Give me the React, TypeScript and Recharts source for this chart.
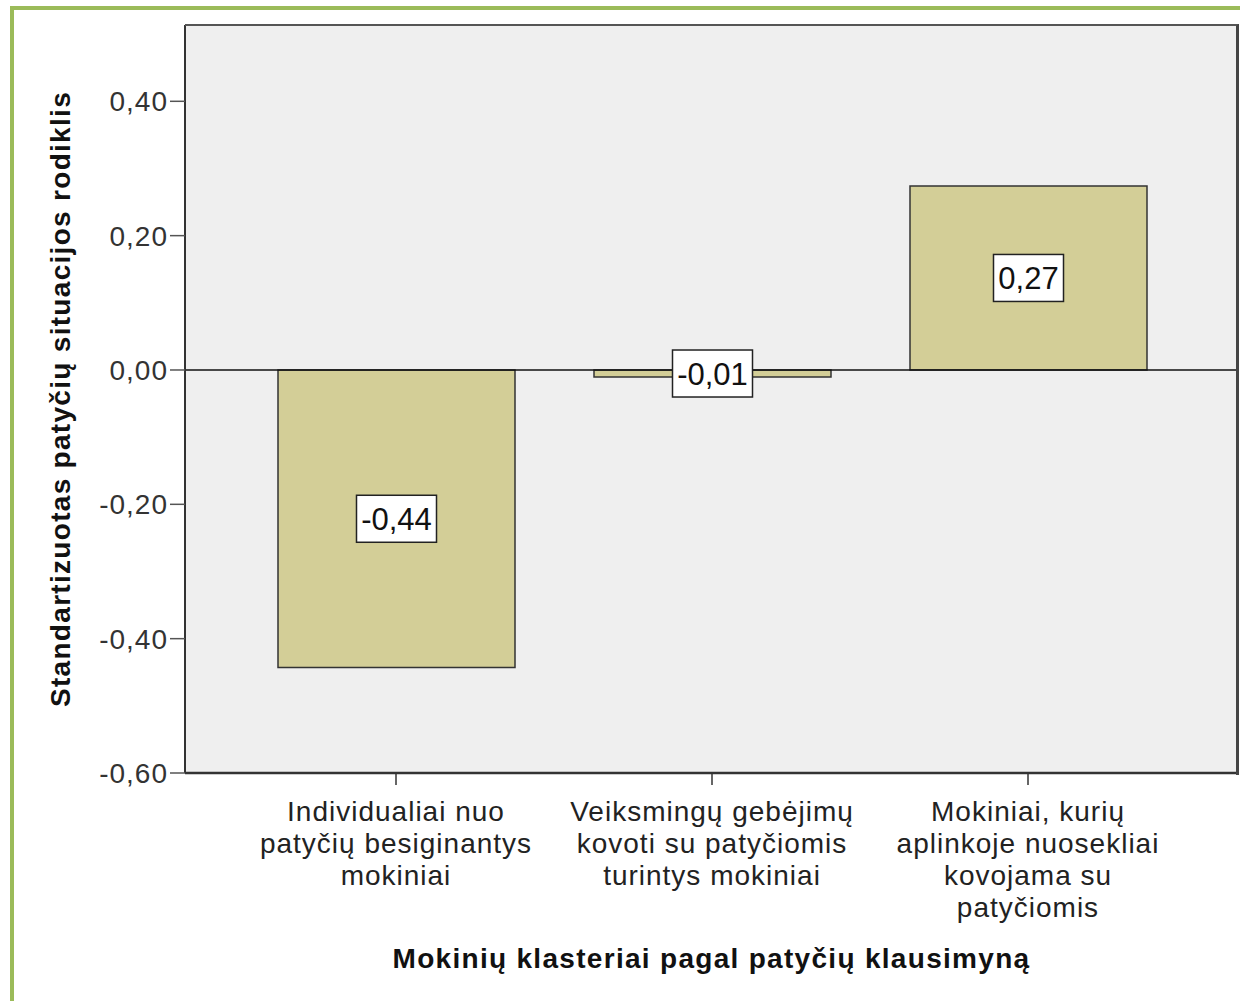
import { BarChart, Bar, XAxis, YAxis, ReferenceLine, CartesianGrid, LabelList, Label } from "recharts";

const CATEGORIES = ["Individualiai", "Veiksmingų", "Mokiniai"];
const CATEGORY_LINES = [
  ["Individualiai nuo", "patyčių besiginantys", "mokiniai"],
  ["Veiksmingų gebėjimų", "kovoti su patyčiomis", "turintys mokiniai"],
  ["Mokiniai, kurių", "aplinkoje nuosekliai", "kovojama su", "patyčiomis"],
];
const VALUES = [-0.443, -0.0105, 0.274];
const Y_TICKS = [-0.6, -0.4, -0.2, 0, 0.2, 0.4];
const Y_MAX = 0.5136;

const FONT = "'Liberation Sans', Arial, sans-serif";

const fmt = (v: number) => v.toFixed(2).replace(".", ",");

const rows = CATEGORIES.map((name, i) => ({ name, value: VALUES[i] }));

function CategoryTick({ x, y, index }: any) {
  const lines = CATEGORY_LINES[index] ?? [];
  return (
    <text x={x} y={y} textAnchor="middle" fontFamily={FONT} fontSize={28} letterSpacing={1} fill="#222">
      {lines.map((l, i) => (
        <tspan key={i} x={x} dy={i === 0 ? 34 : 32}>
          {l}
        </tspan>
      ))}
    </text>
  );
}

function charW(c: string) {
  if (c === "-") return 10;
  if (c === ",") return 9;
  return 17;
}

function ValueBox({ x, y, width, height, value }: any) {
  const cx = x + width / 2;
  const cy = y + height / 2;
  const txt = fmt(value);
  const w = txt.split("").reduce((s, c) => s + charW(c), 0) + 10;
  return (
    <g>
      <rect x={cx - w / 2} y={cy - 23.5} width={w} height={47} fill="#fff" stroke="#222" strokeWidth={1.5} />
      <text x={cx} y={cy + 11} textAnchor="middle" fontFamily={FONT} fontSize={31} fill="#111">
        {txt}
      </text>
    </g>
  );
}

export default function App() {
  return (
    <div style={{ position: "absolute", left: 0, top: 0, width: 1240, height: 1001, background: "#fff" }}>
      <div
        style={{
          position: "absolute",
          left: 10,
          top: 6,
          width: 1230,
          height: 995,
          borderLeft: "4px solid #9bbb59",
          borderTop: "4px solid #9bbb59",
        }}
      />
      <div style={{ position: "absolute", left: 0, top: 0 }}>
        <BarChart width={1240} height={1001} data={rows} margin={{ top: 25, right: 2, bottom: 0, left: 0 }}>
          <CartesianGrid horizontal={false} vertical={false} fill="#efefef" />
          <XAxis
            dataKey="name"
            height={228}
            padding={{ left: 53, right: 52 }}
            tick={<CategoryTick />}
            tickSize={12}
            tickLine={{ stroke: "#333", strokeWidth: 1.5 }}
            axisLine={{ stroke: "#333", strokeWidth: 2.5 }}
            interval={0}
          >
            <Label
              value="Mokinių klasteriai pagal patyčių klausimyną"
              position="insideBottom"
              offset={33}
              fontFamily={FONT}
              fontSize={28}
              fontWeight="bold"
              letterSpacing={1.3}
              fill="#111"
            />
          </XAxis>
          <YAxis
            width={185}
            domain={[-0.6, Y_MAX]}
            ticks={Y_TICKS}
            tickFormatter={fmt}
            tickSize={15}
            tickMargin={2}
            tick={{ fontFamily: FONT, fontSize: 28, letterSpacing: 1, fill: "#333" }}
            tickLine={{ stroke: "#555", strokeWidth: 1.5 }}
            axisLine={{ stroke: "#333", strokeWidth: 2 }}
            allowDataOverflow
          >
            <Label
              value="Standartizuotas patyčių situacijos rodiklis"
              angle={-90}
              position="insideLeft"
              offset={60}
              style={{ textAnchor: "middle" }}
              fontFamily={FONT}
              fontSize={28}
              fontWeight="bold"
              letterSpacing={1.3}
              fill="#111"
            />
          </YAxis>
          <Bar dataKey="value" fill="#d3ce97" stroke="#333" strokeWidth={1.5} barSize={237} isAnimationActive={false}>
            <LabelList dataKey="value" content={<ValueBox />} />
          </Bar>
          <ReferenceLine y={0} stroke="#111" strokeWidth={1.5} />
        </BarChart>
      </div>
      {/* plot frame, top and right edges */}
      <div
        style={{
          position: "absolute",
          left: 185,
          top: 24,
          width: 1051,
          height: 749,
          borderTop: "2px solid #555",
          borderRight: "3px solid #444",
          pointerEvents: "none",
        }}
      />
    </div>
  );
}
